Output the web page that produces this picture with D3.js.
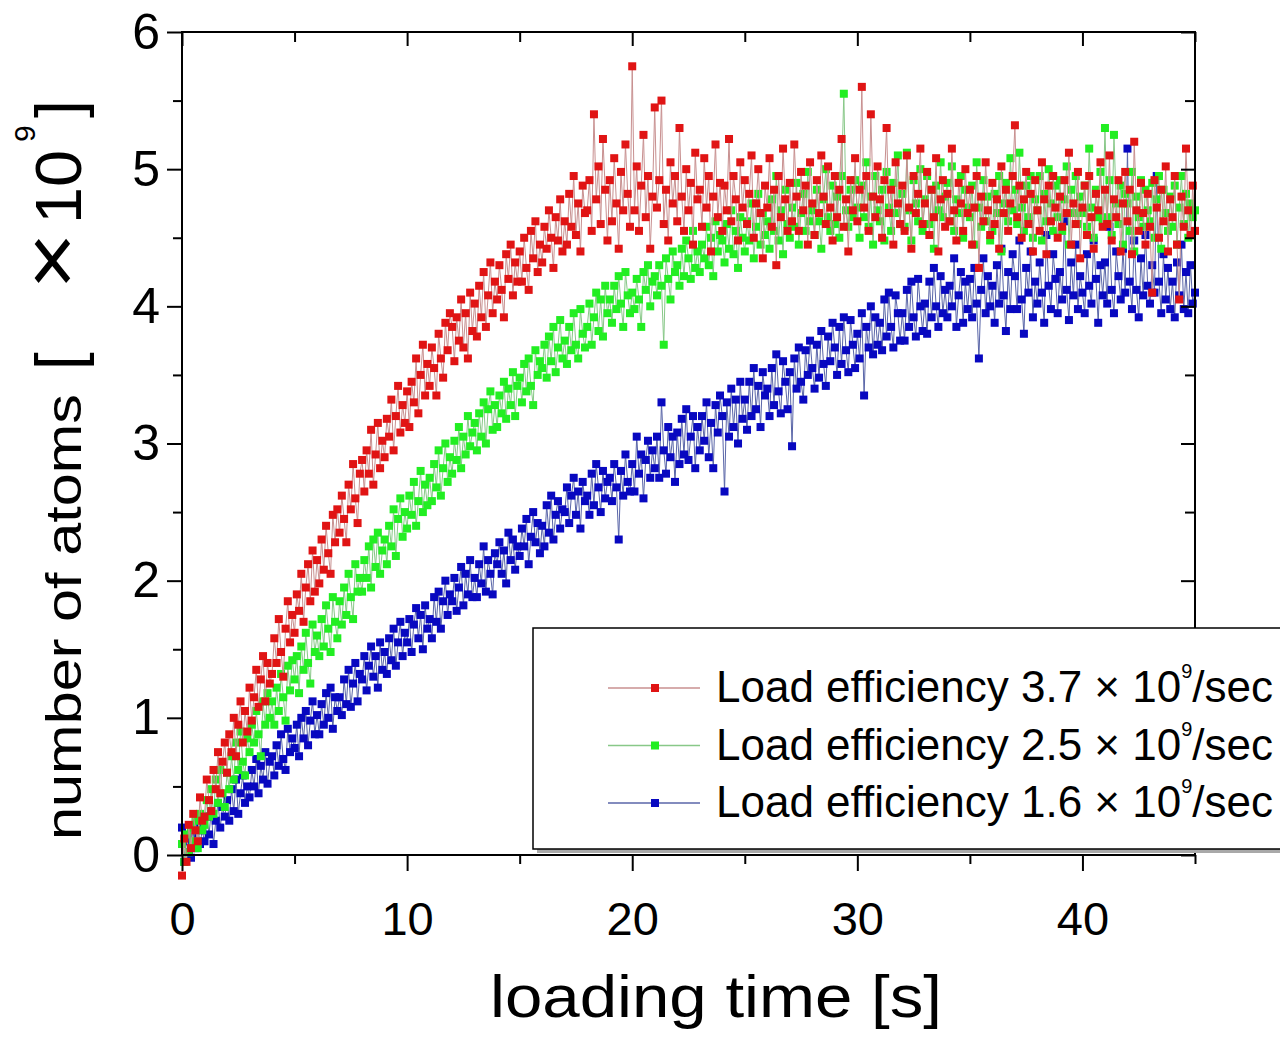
<!DOCTYPE html>
<html lang="en"><head><meta charset="utf-8">
<title>Loading curves</title>
<script src="https://cdn.jsdelivr.net/npm/d3@7/dist/d3.min.js"></script>
<style>
 body { margin: 0; background: #fff; }
 text { font-family: "Liberation Sans", Arial, Helvetica, sans-serif; fill: #000; }
</style>
</head>
<body>
<script>
// loading time [s], one sample every 0.1 s
var loadTime = [
 0,0.1,0.2,0.3,0.4,0.5,0.6,0.7,0.8,0.9,
 1,1.1,1.2,1.3,1.4,1.5,1.6,1.7,1.8,1.9,
 2,2.1,2.2,2.3,2.4,2.5,2.6,2.7,2.8,2.9,
 3,3.1,3.2,3.3,3.4,3.5,3.6,3.7,3.8,3.9,
 4,4.1,4.2,4.3,4.4,4.5,4.6,4.7,4.8,4.9,
 5,5.1,5.2,5.3,5.4,5.5,5.6,5.7,5.8,5.9,
 6,6.1,6.2,6.3,6.4,6.5,6.6,6.7,6.8,6.9,
 7,7.1,7.2,7.3,7.4,7.5,7.6,7.7,7.8,7.9,
 8,8.1,8.2,8.3,8.4,8.5,8.6,8.7,8.8,8.9,
 9,9.1,9.2,9.3,9.4,9.5,9.6,9.7,9.8,9.9,
 10,10.1,10.2,10.3,10.4,10.5,10.6,10.7,10.8,10.9,
 11,11.1,11.2,11.3,11.4,11.5,11.6,11.7,11.8,11.9,
 12,12.1,12.2,12.3,12.4,12.5,12.6,12.7,12.8,12.9,
 13,13.1,13.2,13.3,13.4,13.5,13.6,13.7,13.8,13.9,
 14,14.1,14.2,14.3,14.4,14.5,14.6,14.7,14.8,14.9,
 15,15.1,15.2,15.3,15.4,15.5,15.6,15.7,15.8,15.9,
 16,16.1,16.2,16.3,16.4,16.5,16.6,16.7,16.8,16.9,
 17,17.1,17.2,17.3,17.4,17.5,17.6,17.7,17.8,17.9,
 18,18.1,18.2,18.3,18.4,18.5,18.6,18.7,18.8,18.9,
 19,19.1,19.2,19.3,19.4,19.5,19.6,19.7,19.8,19.9,
 20,20.1,20.2,20.3,20.4,20.5,20.6,20.7,20.8,20.9,
 21,21.1,21.2,21.3,21.4,21.5,21.6,21.7,21.8,21.9,
 22,22.1,22.2,22.3,22.4,22.5,22.6,22.7,22.8,22.9,
 23,23.1,23.2,23.3,23.4,23.5,23.6,23.7,23.8,23.9,
 24,24.1,24.2,24.3,24.4,24.5,24.6,24.7,24.8,24.9,
 25,25.1,25.2,25.3,25.4,25.5,25.6,25.7,25.8,25.9,
 26,26.1,26.2,26.3,26.4,26.5,26.6,26.7,26.8,26.9,
 27,27.1,27.2,27.3,27.4,27.5,27.6,27.7,27.8,27.9,
 28,28.1,28.2,28.3,28.4,28.5,28.6,28.7,28.8,28.9,
 29,29.1,29.2,29.3,29.4,29.5,29.6,29.7,29.8,29.9,
 30,30.1,30.2,30.3,30.4,30.5,30.6,30.7,30.8,30.9,
 31,31.1,31.2,31.3,31.4,31.5,31.6,31.7,31.8,31.9,
 32,32.1,32.2,32.3,32.4,32.5,32.6,32.7,32.8,32.9,
 33,33.1,33.2,33.3,33.4,33.5,33.6,33.7,33.8,33.9,
 34,34.1,34.2,34.3,34.4,34.5,34.6,34.7,34.8,34.9,
 35,35.1,35.2,35.3,35.4,35.5,35.6,35.7,35.8,35.9,
 36,36.1,36.2,36.3,36.4,36.5,36.6,36.7,36.8,36.9,
 37,37.1,37.2,37.3,37.4,37.5,37.6,37.7,37.8,37.9,
 38,38.1,38.2,38.3,38.4,38.5,38.6,38.7,38.8,38.9,
 39,39.1,39.2,39.3,39.4,39.5,39.6,39.7,39.8,39.9,
 40,40.1,40.2,40.3,40.4,40.5,40.6,40.7,40.8,40.9,
 41,41.1,41.2,41.3,41.4,41.5,41.6,41.7,41.8,41.9,
 42,42.1,42.2,42.3,42.4,42.5,42.6,42.7,42.8,42.9,
 43,43.1,43.2,43.3,43.4,43.5,43.6,43.7,43.8,43.9,
 44,44.1,44.2,44.3,44.4,44.5,44.6,44.7,44.8,44.9,
 45
];

// number of atoms [x10^9], load efficiency 3.7 x10^9/sec
var atoms37 = [
 -0.15,0.12,-0.05,0.22,0.05,0.30,0.18,0.10,0.42,0.25,
 0.28,0.55,0.40,0.32,0.62,0.48,0.75,0.45,0.68,0.82,
 0.60,0.88,0.75,1.00,0.72,0.95,1.12,0.82,1.05,0.90,
 1.22,0.98,1.15,1.35,1.08,1.28,1.45,1.12,1.40,1.25,
 1.32,1.58,1.40,1.72,1.48,1.30,1.65,1.85,1.55,1.75,
 1.62,1.90,1.78,2.05,1.70,1.95,2.12,1.85,2.22,1.92,
 2.15,1.98,2.30,2.08,2.40,2.20,2.05,2.48,2.28,2.52,
 2.35,2.62,2.45,2.28,2.70,2.52,2.85,2.60,2.42,2.78,
 2.88,2.65,2.95,2.78,3.10,2.70,2.92,3.15,2.82,3.02,
 2.90,3.18,3.05,3.32,2.95,3.20,3.42,3.08,3.28,3.15,
 3.38,3.12,3.45,3.30,3.62,3.22,3.50,3.72,3.35,3.58,
 3.42,3.70,3.55,3.35,3.80,3.62,3.48,3.88,3.68,3.95,
 3.85,3.60,3.92,3.75,4.05,3.70,3.95,3.62,4.10,3.82,
 4.02,3.78,4.15,3.92,4.25,3.85,4.08,4.32,3.95,4.18,
 4.05,4.30,4.12,3.92,4.38,4.20,4.45,4.08,4.32,4.18,
 4.40,4.18,4.50,4.28,4.12,4.55,4.35,4.62,4.25,4.45,
 4.32,4.58,4.42,4.70,4.50,4.28,4.65,4.48,4.78,4.40,
 4.62,4.45,4.82,4.58,4.95,4.52,4.75,4.40,4.88,4.68,
 4.70,4.92,4.55,5.40,4.78,5.02,4.60,5.22,4.85,4.48,
 4.92,4.62,5.08,4.75,4.42,4.98,4.70,5.18,4.82,4.58,
 5.75,4.70,5.02,4.55,4.88,5.25,4.65,4.95,4.42,4.80,
 5.45,4.72,4.92,5.50,4.60,4.85,4.48,5.05,4.75,4.95,
 4.62,5.30,4.80,4.55,5.00,4.70,4.90,4.45,5.12,4.78,
 4.85,4.58,5.08,4.72,4.95,4.40,4.80,5.18,4.65,4.90,
 4.55,4.88,4.70,5.22,4.62,4.95,4.78,4.48,5.05,4.72,
 4.92,4.60,4.82,5.10,4.50,4.75,5.00,4.68,4.35,4.88,
 4.72,5.08,4.58,4.85,4.30,4.95,4.65,5.15,4.78,4.55,
 4.90,4.62,5.18,4.80,4.55,4.98,4.70,4.88,4.45,5.05,
 4.75,4.52,4.92,4.68,5.10,4.80,4.60,5.02,4.72,4.48,
 4.95,4.65,4.85,5.22,4.58,4.78,4.40,4.92,4.70,5.08,
 4.62,4.85,5.60,4.72,4.95,4.55,5.40,4.80,4.65,5.02,
 4.78,4.50,4.92,5.30,4.68,4.85,4.45,5.05,4.75,4.60,
 4.88,4.55,5.10,4.72,4.42,4.95,4.68,4.82,5.15,4.60,
 4.75,4.98,4.52,4.85,4.65,5.08,4.40,4.78,4.92,4.58,
 4.82,4.62,5.15,4.70,4.48,4.90,4.75,4.55,5.00,4.68,
 4.85,4.45,4.72,4.95,4.28,4.80,4.62,5.05,4.70,4.52,
 4.90,4.60,4.78,4.42,5.02,4.68,4.85,4.55,4.75,4.95,
 5.32,4.65,4.88,4.50,4.78,4.98,4.60,4.82,4.40,4.92,
 4.70,4.55,5.05,4.78,4.38,4.88,4.62,4.95,4.72,4.50,
 4.80,4.58,4.92,4.68,5.12,4.45,4.75,4.60,4.98,4.35,
 4.72,4.88,4.52,4.95,4.65,4.42,4.82,4.70,5.05,4.58,
 4.85,4.60,5.10,4.48,4.78,4.65,4.92,4.40,4.75,4.98,
 4.62,4.85,4.38,5.20,4.70,4.55,4.90,4.68,4.45,4.82,
 4.58,4.10,4.92,4.72,4.50,4.85,4.62,5.02,4.40,4.78,
 4.65,4.95,4.45,4.05,4.80,4.58,5.15,4.70,4.52,4.88,
 4.55
];

// load efficiency 2.5 x10^9/sec
var atoms25 = [
 0.08,-0.05,0.15,0.02,0.20,0.10,0.25,0.05,0.30,0.18,
 0.22,0.40,0.28,0.48,0.30,0.55,0.38,0.62,0.45,0.35,
 0.60,0.48,0.72,0.55,0.82,0.62,0.90,0.68,0.58,0.85,
 0.75,0.95,0.82,1.05,0.88,0.72,1.12,0.95,1.18,1.00,
 1.12,0.95,1.22,1.05,1.32,1.15,0.98,1.38,1.20,1.42,
 1.28,1.45,1.18,1.52,1.35,1.62,1.40,1.25,1.68,1.48,
 1.60,1.45,1.72,1.52,1.82,1.65,1.48,1.88,1.70,1.58,
 1.85,1.68,1.95,1.75,2.05,1.88,1.72,2.12,1.92,2.02,
 1.92,2.15,2.02,2.25,1.95,2.30,2.10,2.35,2.05,2.22,
 2.30,2.12,2.40,2.25,2.52,2.18,2.45,2.60,2.32,2.50,
 2.38,2.62,2.48,2.72,2.40,2.58,2.80,2.50,2.70,2.55,
 2.75,2.58,2.85,2.68,2.95,2.62,2.82,3.00,2.72,2.90,
 2.78,3.02,2.88,3.12,2.82,3.05,2.92,3.20,2.98,3.08,
 3.15,2.95,3.22,3.05,3.30,3.00,3.25,3.38,3.10,3.28,
 3.12,3.35,3.22,3.45,3.18,3.40,3.28,3.52,3.20,3.42,
 3.48,3.30,3.58,3.38,3.62,3.42,3.28,3.68,3.50,3.60,
 3.55,3.72,3.48,3.78,3.60,3.85,3.52,3.70,3.90,3.62,
 3.75,3.58,3.85,3.68,3.95,3.72,3.62,3.98,3.80,3.70,
 3.85,4.02,3.72,3.92,4.10,3.82,4.05,3.78,4.15,3.95,
 4.05,3.88,4.15,3.98,4.22,4.02,3.85,4.25,4.08,3.95,
 4.10,3.98,4.20,4.05,3.85,4.25,4.12,4.30,4.00,4.18,
 4.22,4.08,4.30,4.15,3.72,4.35,4.20,4.05,4.40,4.25,
 4.30,4.15,4.42,4.22,4.48,4.35,4.20,4.55,4.28,4.40,
 4.25,4.45,4.35,4.58,4.30,4.50,4.22,4.62,4.40,4.52,
 4.48,4.32,4.60,4.42,4.70,4.38,4.55,4.28,4.65,4.50,
 4.40,4.62,4.48,4.75,4.35,4.58,4.82,4.45,4.68,4.52,
 4.62,4.42,4.78,4.55,4.95,4.48,4.70,4.38,4.85,4.60,
 4.50,4.72,4.58,4.90,4.45,4.68,4.82,4.55,4.98,4.62,
 4.70,4.52,4.85,4.62,4.42,4.78,5.00,4.65,4.55,4.88,
 4.60,4.80,4.50,4.95,5.55,4.70,4.58,4.85,4.65,4.92,
 4.72,4.50,4.88,4.65,5.05,4.58,4.80,4.45,4.95,4.70,
 4.62,4.85,4.48,4.98,4.72,4.55,4.90,4.68,5.10,4.60,
 4.82,4.58,5.12,4.70,4.48,4.92,4.75,4.62,5.00,4.55,
 4.78,4.95,4.60,4.85,4.42,4.88,4.70,5.05,4.65,4.80,
 4.90,4.62,5.02,4.55,4.78,4.68,4.95,4.50,4.85,4.72,
 4.65,4.88,4.45,5.05,4.72,4.58,4.92,4.62,4.80,4.48,
 4.55,4.82,4.68,4.95,4.40,4.75,4.90,4.62,5.08,4.70,
 4.85,4.60,5.12,4.72,4.55,4.88,4.65,4.95,4.50,4.78,
 4.70,4.95,4.48,4.82,4.62,5.00,4.75,4.55,4.88,4.65,
 4.92,4.55,4.78,5.02,4.45,4.85,4.68,4.95,4.60,4.80,
 4.68,4.88,4.58,5.15,4.72,4.50,4.85,4.65,4.98,4.62,
 5.30,4.65,4.92,4.52,5.25,4.75,4.60,4.88,4.45,4.82,
 4.75,4.55,4.98,4.40,4.80,4.65,4.92,4.58,4.85,4.70,
 4.62,4.90,4.50,4.78,4.95,4.42,4.85,4.68,4.55,4.80,
 4.58,4.88,4.45,4.72,4.95,4.60,4.82,4.50,4.75,4.65,
 4.70
];

// load efficiency 1.6 x10^9/sec
var atoms16 = [
 0.20,-0.05,0.10,0.02,-0.02,0.15,0.05,0.22,0.08,0.18,
 0.10,0.28,0.15,0.32,0.08,0.25,0.38,0.20,0.35,0.28,
 0.40,0.25,0.48,0.32,0.55,0.30,0.45,0.58,0.38,0.50,
 0.42,0.62,0.50,0.70,0.45,0.65,0.55,0.75,0.52,0.68,
 0.72,0.58,0.80,0.65,0.88,0.70,0.62,0.92,0.75,0.85,
 0.78,0.95,0.72,1.00,0.85,1.05,0.80,0.98,1.12,0.88,
 1.02,0.88,1.10,0.95,1.18,1.00,1.22,0.92,1.15,1.05,
 1.15,1.02,1.28,1.10,1.35,1.08,1.25,1.40,1.12,1.32,
 1.28,1.45,1.20,1.38,1.52,1.30,1.45,1.22,1.55,1.35,
 1.48,1.32,1.58,1.42,1.65,1.38,1.55,1.70,1.45,1.62,
 1.55,1.72,1.48,1.68,1.80,1.58,1.75,1.50,1.82,1.65,
 1.72,1.58,1.88,1.70,1.92,1.65,1.85,2.00,1.75,1.90,
 1.85,2.02,1.78,1.95,2.10,1.82,2.05,1.90,2.15,1.88,
 2.02,1.88,2.12,1.98,2.25,1.92,2.15,2.05,1.90,2.20,
 2.12,2.28,2.05,2.22,1.98,2.35,2.15,2.30,2.08,2.25,
 2.18,2.38,2.25,2.45,2.12,2.32,2.50,2.28,2.42,2.20,
 2.40,2.25,2.55,2.35,2.62,2.30,2.48,2.58,2.38,2.52,
 2.50,2.68,2.42,2.62,2.75,2.48,2.65,2.38,2.72,2.58,
 2.62,2.48,2.78,2.55,2.85,2.68,2.50,2.80,2.60,2.72,
 2.75,2.58,2.85,2.68,2.30,2.80,2.62,2.92,2.72,2.65,
 2.85,2.65,3.05,2.78,2.92,2.60,2.88,3.02,2.75,2.95,
 2.82,3.05,2.75,3.30,2.95,2.78,3.12,2.90,3.05,2.72,
 3.08,2.85,3.18,2.92,3.25,2.88,3.05,3.20,2.82,3.12,
 2.95,3.20,3.02,3.30,2.90,3.15,2.82,3.28,3.08,3.35,
 3.20,2.65,3.30,3.05,3.40,3.12,3.32,3.00,3.45,3.18,
 3.32,3.10,3.45,3.20,3.55,3.25,3.42,3.12,3.52,3.35,
 3.40,3.20,3.55,3.28,3.65,3.38,3.22,3.60,3.45,3.25,
 3.52,2.98,3.62,3.40,3.70,3.45,3.32,3.68,3.50,3.75,
 3.55,3.40,3.72,3.48,3.82,3.58,3.42,3.78,3.60,3.88,
 3.70,3.50,3.85,3.58,3.92,3.68,3.52,3.90,3.72,3.55,
 3.80,3.62,3.95,3.35,3.85,3.70,4.00,3.65,3.92,3.72,
 3.88,3.68,4.05,3.78,4.10,3.85,3.70,4.08,3.95,3.75,
 3.95,3.75,4.12,3.85,4.18,3.92,3.78,4.20,4.00,3.82,
 4.02,3.80,4.18,3.92,4.28,4.00,3.85,4.22,3.95,4.12,
 3.92,4.15,4.00,4.35,3.85,4.08,4.25,3.88,4.18,3.98,
 4.20,3.92,4.28,4.02,3.62,4.12,4.35,3.95,4.22,4.00,
 4.15,3.88,4.30,4.02,4.42,4.08,3.82,4.25,3.98,4.38,
 4.22,3.98,4.48,4.05,3.80,4.28,4.10,4.40,3.92,4.18,
 4.02,4.32,4.10,3.88,4.52,4.15,3.98,4.38,4.20,3.95,
 4.25,4.05,4.62,4.12,3.90,4.32,4.08,4.45,3.98,4.22,
 4.10,3.95,4.38,4.15,4.02,4.48,4.20,3.88,4.30,4.08,
 4.32,4.02,4.58,4.12,3.95,4.40,4.22,4.05,4.42,4.10,
 5.15,4.18,3.98,4.48,4.12,3.92,4.35,4.08,4.52,4.15,
 4.02,4.30,4.10,4.95,4.18,3.95,4.38,4.05,4.28,3.98,
 4.18,3.92,4.32,4.08,4.45,3.98,4.25,3.95,4.30,4.02,
 4.10
];

var seriesRates = ["3.7", "2.5", "1.6"];
var xTicks = [0, 10, 20, 30, 40];
var xMinorTicks = [5, 15, 25, 35, 45];
var yTicks = [0, 1, 2, 3, 4, 5, 6];
var yMinorTicks = [0.5, 1.5, 2.5, 3.5, 4.5, 5.5];

var width = 1280;
var height = 1038;
// plot box edges ("top" is taken by window.top, so use other names)
var plotL = 182, plotR = 1195, plotT = 32, plotB = 855;

var x = d3.scaleLinear().domain([0, 45]).range([plotL, plotR]);
var y = d3.scaleLinear().domain([0, 6]).range([plotB, plotT]);

var svg = d3.select("body").append("svg")
            .attr("width", width)
            .attr("height", height);

var series = [
  {rate: seriesRates[2], values: atoms16, fill: "#0808c0", line: "#5a66a8"},
  {rate: seriesRates[1], values: atoms25, fill: "#22ee22", line: "#88c888"},
  {rate: seriesRates[0], values: atoms37, fill: "#e01414", line: "#c89090"}
];

var line = d3.line()
             .x(function(d) { return x(d[0]); })
             .y(function(d) { return y(d[1]); });

series.forEach(function(s) {
  var pts = loadTime.map(function(t, i) { return [t, s.values[i]]; });
  var g = svg.append("g");
  g.append("path")
   .datum(pts)
   .attr("fill", "none")
   .attr("stroke", s.line)
   .attr("stroke-width", 1)
   .attr("d", line);
  g.selectAll("rect")
   .data(pts)
   .enter()
   .append("rect")
   .attr("x", function(d) { return x(d[0]) - 4; })
   .attr("y", function(d) { return y(d[1]) - 4; })
   .attr("width", 8)
   .attr("height", 8)
   .attr("fill", s.fill);
});

function styleAxis(g, size) {
  g.select(".domain").remove();
  g.selectAll(".tick line").attr("stroke", "#000").attr("stroke-width", 2);
  g.attr("font-family", "Liberation Sans, Arial, sans-serif").attr("font-size", size);
  g.selectAll(".tick text").attr("fill", "#000");
}

// left axis, outward ticks
svg.append("g").attr("transform", "translate(" + plotL + ",0)")
   .call(d3.axisLeft(y).tickValues(yTicks).tickSize(15).tickPadding(7).tickFormat(d3.format("d")))
   .call(styleAxis, 50);
svg.append("g").attr("transform", "translate(" + plotL + ",0)")
   .call(d3.axisLeft(y).tickValues(yMinorTicks).tickSize(9).tickFormat(""))
   .call(styleAxis, 10);

// top axis, inward ticks
svg.append("g").attr("transform", "translate(0," + plotT + ")")
   .call(d3.axisBottom(x).tickValues(xTicks).tickSize(14).tickFormat(""))
   .call(styleAxis, 10);
svg.append("g").attr("transform", "translate(0," + plotT + ")")
   .call(d3.axisBottom(x).tickValues(xMinorTicks).tickSize(10).tickFormat(""))
   .call(styleAxis, 10);

// right axis, inward ticks
svg.append("g").attr("transform", "translate(" + plotR + ",0)")
   .call(d3.axisLeft(y).tickValues(yTicks).tickSize(14).tickFormat(""))
   .call(styleAxis, 10);
svg.append("g").attr("transform", "translate(" + plotR + ",0)")
   .call(d3.axisLeft(y).tickValues(yMinorTicks).tickSize(10).tickFormat(""))
   .call(styleAxis, 10);

// frame
svg.append("line").attr("x1", plotL).attr("x2", plotL).attr("y1", plotT - 1).attr("y2", plotB + 1)
   .attr("stroke", "#000").attr("stroke-width", 2);
svg.append("line").attr("x1", plotL - 1).attr("x2", plotR + 1).attr("y1", plotT).attr("y2", plotT)
   .attr("stroke", "#000").attr("stroke-width", 2);
svg.append("line").attr("x1", plotR).attr("x2", plotR).attr("y1", plotT - 1).attr("y2", plotB + 1)
   .attr("stroke", "#000").attr("stroke-width", 2);

// legend (sits over the right frame line)
var legend = svg.append("g");
legend.append("rect").attr("x", 537).attr("y", 632).attr("width", 800).attr("height", 221)
      .attr("fill", "#a9a9a9");
legend.append("rect").attr("x", 533).attr("y", 628).attr("width", 800).attr("height", 221)
      .attr("fill", "#fff").attr("stroke", "#000").attr("stroke-width", 1.5);

var legendRows = [series[2], series[1], series[0]];
legendRows.forEach(function(s, i) {
  var cy = 688 + i * 57.5;
  legend.append("line").attr("x1", 608).attr("x2", 700).attr("y1", cy).attr("y2", cy)
        .attr("stroke", s.line).attr("stroke-width", 1.5);
  legend.append("rect").attr("x", 651).attr("y", cy - 4).attr("width", 8).attr("height", 8)
        .attr("fill", s.fill);
  var t = legend.append("text").attr("x", 716).attr("y", cy + 14).attr("font-size", 44);
  t.append("tspan").text("Load efficiency " + s.rate + " \u00d7 10");
  t.append("tspan").attr("font-size", 20).attr("dy", -24).text("9");
  t.append("tspan").attr("dy", 24).text("/sec");
});

// bottom axis drawn last so its line stays over the legend shadow
svg.append("g").attr("transform", "translate(0," + plotB + ")")
   .call(d3.axisBottom(x).tickValues(xTicks).tickSize(16).tickPadding(31).tickFormat(d3.format("d")))
   .call(styleAxis, 47);
svg.append("g").attr("transform", "translate(0," + plotB + ")")
   .call(d3.axisBottom(x).tickValues(xMinorTicks).tickSize(9).tickFormat(""))
   .call(styleAxis, 10);
svg.append("line").attr("x1", plotL - 1).attr("x2", plotR + 1).attr("y1", plotB).attr("y2", plotB)
   .attr("stroke", "#000").attr("stroke-width", 2);

// axis titles
svg.append("text")
   .attr("x", 490)
   .attr("y", 1017)
   .attr("font-size", 60)
   .attr("textLength", 452)
   .attr("lengthAdjust", "spacingAndGlyphs")
   .text("loading time [s]");

var ylab = svg.append("g").attr("transform", "translate(81,840) rotate(-90)");
ylab.append("text").attr("x", 0).attr("y", 0).attr("font-size", 50)
    .attr("textLength", 446).attr("lengthAdjust", "spacingAndGlyphs")
    .text("number of atoms");
ylab.append("text").attr("x", 470).attr("y", 0).attr("font-size", 64).text("[");
ylab.append("text").attr("x", 550).attr("y", -2).attr("font-size", 80)
    .attr("textLength", 58).attr("lengthAdjust", "spacingAndGlyphs").text("\u00d7");
ylab.append("text").attr("x", 616).attr("y", 0).attr("font-size", 64)
    .attr("textLength", 74).attr("lengthAdjust", "spacingAndGlyphs").text("10");
ylab.append("text").attr("x", 698).attr("y", -46).attr("font-size", 30).text("9");
ylab.append("text").attr("x", 722).attr("y", 0).attr("font-size", 64).text("]");
</script>
</body></html>
